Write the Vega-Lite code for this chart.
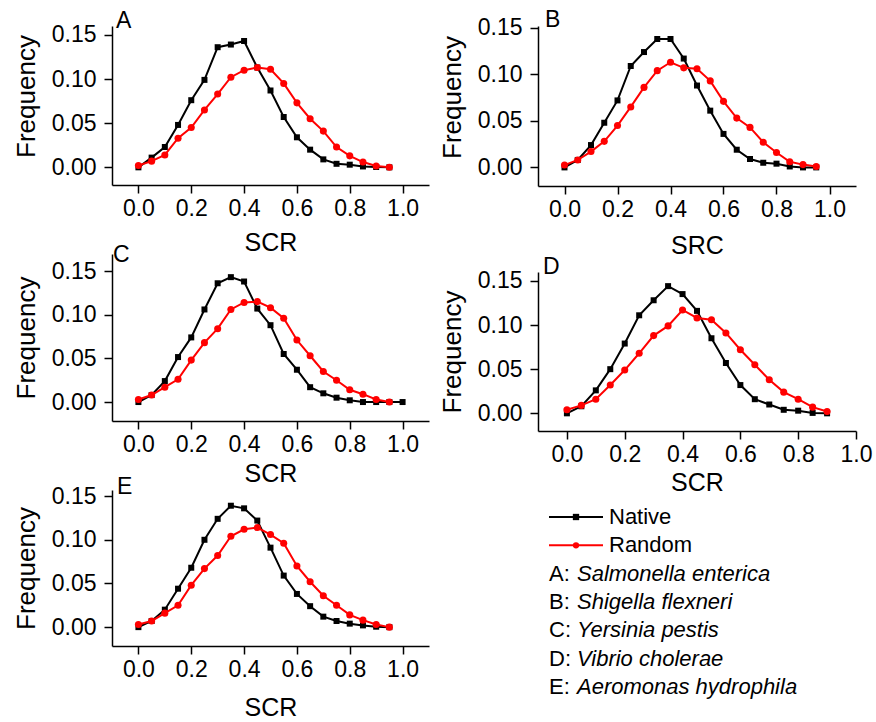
{
  "$schema": "https://vega.github.io/schema/vega-lite/v6.json",
  "background": "white",
  "padding": {"left": 13, "top": 9, "right": 5, "bottom": 5},
  "config": {
    "font": "Liberation Sans",
    "view": {"stroke": null},
    "axis": {"domainColor": "black", "domainWidth": 1.5, "tickColor": "black", "tickWidth": 1.5, "tickSize": 8, "labelFontSize": 23, "labelColor": "black", "titleFontSize": 25, "titleFontWeight": "normal", "titleColor": "black", "grid": false},
    "axisX": {"labelPadding": 4},
    "axisY": {"labelPadding": 8, "titlePadding": 12, "titleFontSize": 26}
  },
  "datasets": {
    "curves": [
      {"panel":"A","series":"Native","scr":0,"freq":0},{"panel":"A","series":"Native","scr":0.05,"freq":0.011},{"panel":"A","series":"Native","scr":0.1,"freq":0.023},{"panel":"A","series":"Native","scr":0.15,"freq":0.048},{"panel":"A","series":"Native","scr":0.2,"freq":0.076},{"panel":"A","series":"Native","scr":0.25,"freq":0.099},{"panel":"A","series":"Native","scr":0.3,"freq":0.136},{"panel":"A","series":"Native","scr":0.35,"freq":0.139},{"panel":"A","series":"Native","scr":0.4,"freq":0.143},{"panel":"A","series":"Native","scr":0.45,"freq":0.113},{"panel":"A","series":"Native","scr":0.5,"freq":0.087},{"panel":"A","series":"Native","scr":0.55,"freq":0.057},{"panel":"A","series":"Native","scr":0.6,"freq":0.034},{"panel":"A","series":"Native","scr":0.65,"freq":0.02},{"panel":"A","series":"Native","scr":0.7,"freq":0.009},{"panel":"A","series":"Native","scr":0.75,"freq":0.004},{"panel":"A","series":"Native","scr":0.8,"freq":0.003},{"panel":"A","series":"Native","scr":0.85,"freq":0.001},{"panel":"A","series":"Native","scr":0.9,"freq":0.0004},{"panel":"A","series":"Native","scr":0.95,"freq":0},
      {"panel":"A","series":"Random","scr":0,"freq":0.002},{"panel":"A","series":"Random","scr":0.05,"freq":0.007},{"panel":"A","series":"Random","scr":0.1,"freq":0.014},{"panel":"A","series":"Random","scr":0.15,"freq":0.033},{"panel":"A","series":"Random","scr":0.2,"freq":0.045},{"panel":"A","series":"Random","scr":0.25,"freq":0.065},{"panel":"A","series":"Random","scr":0.3,"freq":0.083},{"panel":"A","series":"Random","scr":0.35,"freq":0.102},{"panel":"A","series":"Random","scr":0.4,"freq":0.11},{"panel":"A","series":"Random","scr":0.45,"freq":0.113},{"panel":"A","series":"Random","scr":0.5,"freq":0.111},{"panel":"A","series":"Random","scr":0.55,"freq":0.095},{"panel":"A","series":"Random","scr":0.6,"freq":0.073},{"panel":"A","series":"Random","scr":0.65,"freq":0.055},{"panel":"A","series":"Random","scr":0.7,"freq":0.041},{"panel":"A","series":"Random","scr":0.75,"freq":0.023},{"panel":"A","series":"Random","scr":0.8,"freq":0.013},{"panel":"A","series":"Random","scr":0.85,"freq":0.006},{"panel":"A","series":"Random","scr":0.9,"freq":0.0015},{"panel":"A","series":"Random","scr":0.95,"freq":0},
      {"panel":"B","series":"Native","scr":0,"freq":0},{"panel":"B","series":"Native","scr":0.05,"freq":0.008},{"panel":"B","series":"Native","scr":0.1,"freq":0.024},{"panel":"B","series":"Native","scr":0.15,"freq":0.048},{"panel":"B","series":"Native","scr":0.2,"freq":0.072},{"panel":"B","series":"Native","scr":0.25,"freq":0.109},{"panel":"B","series":"Native","scr":0.3,"freq":0.124},{"panel":"B","series":"Native","scr":0.35,"freq":0.138},{"panel":"B","series":"Native","scr":0.4,"freq":0.138},{"panel":"B","series":"Native","scr":0.45,"freq":0.117},{"panel":"B","series":"Native","scr":0.5,"freq":0.088},{"panel":"B","series":"Native","scr":0.55,"freq":0.061},{"panel":"B","series":"Native","scr":0.6,"freq":0.036},{"panel":"B","series":"Native","scr":0.65,"freq":0.019},{"panel":"B","series":"Native","scr":0.7,"freq":0.009},{"panel":"B","series":"Native","scr":0.75,"freq":0.005},{"panel":"B","series":"Native","scr":0.8,"freq":0.004},{"panel":"B","series":"Native","scr":0.85,"freq":0.001},{"panel":"B","series":"Native","scr":0.9,"freq":0},{"panel":"B","series":"Native","scr":0.95,"freq":0},
      {"panel":"B","series":"Random","scr":0,"freq":0.0025},{"panel":"B","series":"Random","scr":0.05,"freq":0.008},{"panel":"B","series":"Random","scr":0.1,"freq":0.017},{"panel":"B","series":"Random","scr":0.15,"freq":0.028},{"panel":"B","series":"Random","scr":0.2,"freq":0.045},{"panel":"B","series":"Random","scr":0.25,"freq":0.065},{"panel":"B","series":"Random","scr":0.3,"freq":0.086},{"panel":"B","series":"Random","scr":0.35,"freq":0.104},{"panel":"B","series":"Random","scr":0.4,"freq":0.113},{"panel":"B","series":"Random","scr":0.45,"freq":0.107},{"panel":"B","series":"Random","scr":0.5,"freq":0.106},{"panel":"B","series":"Random","scr":0.55,"freq":0.093},{"panel":"B","series":"Random","scr":0.6,"freq":0.071},{"panel":"B","series":"Random","scr":0.65,"freq":0.053},{"panel":"B","series":"Random","scr":0.7,"freq":0.043},{"panel":"B","series":"Random","scr":0.75,"freq":0.027},{"panel":"B","series":"Random","scr":0.8,"freq":0.016},{"panel":"B","series":"Random","scr":0.85,"freq":0.006},{"panel":"B","series":"Random","scr":0.9,"freq":0.003},{"panel":"B","series":"Random","scr":0.95,"freq":0.001},
      {"panel":"C","series":"Native","scr":0,"freq":0},{"panel":"C","series":"Native","scr":0.05,"freq":0.008},{"panel":"C","series":"Native","scr":0.1,"freq":0.024},{"panel":"C","series":"Native","scr":0.15,"freq":0.0515},{"panel":"C","series":"Native","scr":0.2,"freq":0.074},{"panel":"C","series":"Native","scr":0.25,"freq":0.106},{"panel":"C","series":"Native","scr":0.3,"freq":0.136},{"panel":"C","series":"Native","scr":0.35,"freq":0.143},{"panel":"C","series":"Native","scr":0.4,"freq":0.138},{"panel":"C","series":"Native","scr":0.45,"freq":0.107},{"panel":"C","series":"Native","scr":0.5,"freq":0.088},{"panel":"C","series":"Native","scr":0.55,"freq":0.055},{"panel":"C","series":"Native","scr":0.6,"freq":0.037},{"panel":"C","series":"Native","scr":0.65,"freq":0.017},{"panel":"C","series":"Native","scr":0.7,"freq":0.01},{"panel":"C","series":"Native","scr":0.75,"freq":0.005},{"panel":"C","series":"Native","scr":0.8,"freq":0.002},{"panel":"C","series":"Native","scr":0.85,"freq":0},{"panel":"C","series":"Native","scr":0.9,"freq":0},{"panel":"C","series":"Native","scr":0.95,"freq":0},{"panel":"C","series":"Native","scr":1.0,"freq":0},
      {"panel":"C","series":"Random","scr":0,"freq":0.003},{"panel":"C","series":"Random","scr":0.05,"freq":0.008},{"panel":"C","series":"Random","scr":0.1,"freq":0.017},{"panel":"C","series":"Random","scr":0.15,"freq":0.026},{"panel":"C","series":"Random","scr":0.2,"freq":0.048},{"panel":"C","series":"Random","scr":0.25,"freq":0.068},{"panel":"C","series":"Random","scr":0.3,"freq":0.084},{"panel":"C","series":"Random","scr":0.35,"freq":0.106},{"panel":"C","series":"Random","scr":0.4,"freq":0.114},{"panel":"C","series":"Random","scr":0.45,"freq":0.115},{"panel":"C","series":"Random","scr":0.5,"freq":0.108},{"panel":"C","series":"Random","scr":0.55,"freq":0.096},{"panel":"C","series":"Random","scr":0.6,"freq":0.071},{"panel":"C","series":"Random","scr":0.65,"freq":0.053},{"panel":"C","series":"Random","scr":0.7,"freq":0.035},{"panel":"C","series":"Random","scr":0.75,"freq":0.025},{"panel":"C","series":"Random","scr":0.8,"freq":0.014},{"panel":"C","series":"Random","scr":0.85,"freq":0.009},{"panel":"C","series":"Random","scr":0.9,"freq":0.003},{"panel":"C","series":"Random","scr":0.95,"freq":0},
      {"panel":"D","series":"Native","scr":0,"freq":0},{"panel":"D","series":"Native","scr":0.05,"freq":0.008},{"panel":"D","series":"Native","scr":0.1,"freq":0.026},{"panel":"D","series":"Native","scr":0.15,"freq":0.05},{"panel":"D","series":"Native","scr":0.2,"freq":0.079},{"panel":"D","series":"Native","scr":0.25,"freq":0.111},{"panel":"D","series":"Native","scr":0.3,"freq":0.128},{"panel":"D","series":"Native","scr":0.35,"freq":0.144},{"panel":"D","series":"Native","scr":0.4,"freq":0.135},{"panel":"D","series":"Native","scr":0.45,"freq":0.116},{"panel":"D","series":"Native","scr":0.5,"freq":0.085},{"panel":"D","series":"Native","scr":0.55,"freq":0.057},{"panel":"D","series":"Native","scr":0.6,"freq":0.032},{"panel":"D","series":"Native","scr":0.65,"freq":0.016},{"panel":"D","series":"Native","scr":0.7,"freq":0.01},{"panel":"D","series":"Native","scr":0.75,"freq":0.004},{"panel":"D","series":"Native","scr":0.8,"freq":0.003},{"panel":"D","series":"Native","scr":0.85,"freq":0.0005},{"panel":"D","series":"Native","scr":0.9,"freq":0},
      {"panel":"D","series":"Random","scr":0,"freq":0.004},{"panel":"D","series":"Random","scr":0.05,"freq":0.009},{"panel":"D","series":"Random","scr":0.1,"freq":0.016},{"panel":"D","series":"Random","scr":0.15,"freq":0.032},{"panel":"D","series":"Random","scr":0.2,"freq":0.049},{"panel":"D","series":"Random","scr":0.25,"freq":0.068},{"panel":"D","series":"Random","scr":0.3,"freq":0.088},{"panel":"D","series":"Random","scr":0.35,"freq":0.099},{"panel":"D","series":"Random","scr":0.4,"freq":0.117},{"panel":"D","series":"Random","scr":0.45,"freq":0.108},{"panel":"D","series":"Random","scr":0.5,"freq":0.106},{"panel":"D","series":"Random","scr":0.55,"freq":0.091},{"panel":"D","series":"Random","scr":0.6,"freq":0.072},{"panel":"D","series":"Random","scr":0.65,"freq":0.055},{"panel":"D","series":"Random","scr":0.7,"freq":0.038},{"panel":"D","series":"Random","scr":0.75,"freq":0.024},{"panel":"D","series":"Random","scr":0.8,"freq":0.016},{"panel":"D","series":"Random","scr":0.85,"freq":0.007},{"panel":"D","series":"Random","scr":0.9,"freq":0.002},
      {"panel":"E","series":"Native","scr":0,"freq":0},{"panel":"E","series":"Native","scr":0.05,"freq":0.007},{"panel":"E","series":"Native","scr":0.1,"freq":0.02},{"panel":"E","series":"Native","scr":0.15,"freq":0.044},{"panel":"E","series":"Native","scr":0.2,"freq":0.068},{"panel":"E","series":"Native","scr":0.25,"freq":0.1},{"panel":"E","series":"Native","scr":0.3,"freq":0.124},{"panel":"E","series":"Native","scr":0.35,"freq":0.139},{"panel":"E","series":"Native","scr":0.4,"freq":0.136},{"panel":"E","series":"Native","scr":0.45,"freq":0.122},{"panel":"E","series":"Native","scr":0.5,"freq":0.091},{"panel":"E","series":"Native","scr":0.55,"freq":0.059},{"panel":"E","series":"Native","scr":0.6,"freq":0.038},{"panel":"E","series":"Native","scr":0.65,"freq":0.024},{"panel":"E","series":"Native","scr":0.7,"freq":0.012},{"panel":"E","series":"Native","scr":0.75,"freq":0.007},{"panel":"E","series":"Native","scr":0.8,"freq":0.004},{"panel":"E","series":"Native","scr":0.85,"freq":0.002},{"panel":"E","series":"Native","scr":0.9,"freq":0.0005},{"panel":"E","series":"Native","scr":0.95,"freq":0},
      {"panel":"E","series":"Random","scr":0,"freq":0.003},{"panel":"E","series":"Random","scr":0.05,"freq":0.007},{"panel":"E","series":"Random","scr":0.1,"freq":0.016},{"panel":"E","series":"Random","scr":0.15,"freq":0.025},{"panel":"E","series":"Random","scr":0.2,"freq":0.048},{"panel":"E","series":"Random","scr":0.25,"freq":0.067},{"panel":"E","series":"Random","scr":0.3,"freq":0.082},{"panel":"E","series":"Random","scr":0.35,"freq":0.104},{"panel":"E","series":"Random","scr":0.4,"freq":0.112},{"panel":"E","series":"Random","scr":0.45,"freq":0.114},{"panel":"E","series":"Random","scr":0.5,"freq":0.106},{"panel":"E","series":"Random","scr":0.55,"freq":0.096},{"panel":"E","series":"Random","scr":0.6,"freq":0.07},{"panel":"E","series":"Random","scr":0.65,"freq":0.052},{"panel":"E","series":"Random","scr":0.7,"freq":0.036},{"panel":"E","series":"Random","scr":0.75,"freq":0.025},{"panel":"E","series":"Random","scr":0.8,"freq":0.014},{"panel":"E","series":"Random","scr":0.85,"freq":0.008},{"panel":"E","series":"Random","scr":0.9,"freq":0.003},{"panel":"E","series":"Random","scr":0.95,"freq":0}
    ],
    "legendRows": [
      {"key":"Native","series":"Native","label":"Native"},
      {"key":"Random","series":"Random","label":"Random"},
      {"key":"A","prefix":"A:","species":"Salmonella enterica"},
      {"key":"B","prefix":"B:","species":"Shigella flexneri"},
      {"key":"C","prefix":"C:","species":"Yersinia pestis"},
      {"key":"D","prefix":"D:","species":"Vibrio cholerae"},
      {"key":"E","prefix":"E:","species":"Aeromonas hydrophila"}
    ]
  },
  "spacing": 10,
  "hconcat": [
    {
      "bounds": "flush",
      "spacing": 69,
      "vconcat": [
        {
          "width": 317, "height": 159,
          "data": {"name": "curves"},
          "transform": [{"filter": "datum.panel === 'A'"}],
          "encoding": {
            "x": {"field": "scr", "type": "quantitative", "scale": {"domain": [-0.1, 1.1], "nice": false, "zero": false}, "axis": {"values": [0, 0.2, 0.4, 0.6, 0.8, 1.0], "format": ".1f", "title": "SCR", "titlePadding": 10}},
            "y": {"field": "freq", "type": "quantitative", "scale": {"domain": [-0.02, 0.16], "nice": false, "zero": false}, "axis": {"values": [0, 0.05, 0.1, 0.15], "format": ".2f", "title": "Frequency", "titleY": 70}}
          },
          "layer": [
            {"transform": [{"filter": "datum.series === 'Native'"}], "mark": {"type": "line", "color": "black", "strokeWidth": 2}},
            {"transform": [{"filter": "datum.series === 'Native'"}], "mark": {"type": "point", "shape": "square", "filled": true, "color": "black", "opacity": 1, "size": 36}},
            {"transform": [{"filter": "datum.series === 'Random'"}], "mark": {"type": "line", "color": "#ff0000", "strokeWidth": 2}},
            {"transform": [{"filter": "datum.series === 'Random'"}], "mark": {"type": "point", "shape": "circle", "filled": true, "color": "#ff0000", "opacity": 1, "size": 50}},
            {"transform": [{"filter": "datum.series === 'Native' && datum.scr === 0"}], "mark": {"type": "text", "fontSize": 23, "align": "left", "baseline": "alphabetic", "dx": 4, "dy": 2, "color": "black"}, "encoding": {"x": {"datum": -0.1}, "y": {"datum": 0.16}, "text": {"field": "panel", "type": "nominal"}}}
          ]
        },
        {
          "width": 317, "height": 167,
          "data": {"name": "curves"},
          "transform": [{"filter": "datum.panel === 'C'"}],
          "encoding": {
            "x": {"field": "scr", "type": "quantitative", "scale": {"domain": [-0.1, 1.1], "nice": false, "zero": false}, "axis": {"values": [0, 0.2, 0.4, 0.6, 0.8, 1.0], "format": ".1f", "title": "SCR", "titlePadding": 5}},
            "y": {"field": "freq", "type": "quantitative", "scale": {"domain": [-0.0217, 0.1695], "nice": false, "zero": false}, "axis": {"values": [0, 0.05, 0.1, 0.15], "format": ".2f", "title": "Frequency"}}
          },
          "layer": [
            {"transform": [{"filter": "datum.series === 'Native'"}], "mark": {"type": "line", "color": "black", "strokeWidth": 2}},
            {"transform": [{"filter": "datum.series === 'Native'"}], "mark": {"type": "point", "shape": "square", "filled": true, "color": "black", "opacity": 1, "size": 36}},
            {"transform": [{"filter": "datum.series === 'Random'"}], "mark": {"type": "line", "color": "#ff0000", "strokeWidth": 2}},
            {"transform": [{"filter": "datum.series === 'Random'"}], "mark": {"type": "point", "shape": "circle", "filled": true, "color": "#ff0000", "opacity": 1, "size": 50}},
            {"transform": [{"filter": "datum.series === 'Native' && datum.scr === 0"}], "mark": {"type": "text", "fontSize": 23, "align": "left", "baseline": "alphabetic", "dx": 1, "dy": 8, "color": "black"}, "encoding": {"x": {"datum": -0.1}, "y": {"datum": 0.1695}, "text": {"field": "panel", "type": "nominal"}}}
          ]
        },
        {
          "width": 317, "height": 156,
          "data": {"name": "curves"},
          "transform": [{"filter": "datum.panel === 'E'"}],
          "encoding": {
            "x": {"field": "scr", "type": "quantitative", "scale": {"domain": [-0.1, 1.1], "nice": false, "zero": false}, "axis": {"values": [0, 0.2, 0.4, 0.6, 0.8, 1.0], "format": ".1f", "title": "SCR", "titlePadding": 14}},
            "y": {"field": "freq", "type": "quantitative", "scale": {"domain": [-0.0216, 0.157], "nice": false, "zero": false}, "axis": {"values": [0, 0.05, 0.1, 0.15], "format": ".2f", "title": "Frequency"}}
          },
          "layer": [
            {"transform": [{"filter": "datum.series === 'Native'"}], "mark": {"type": "line", "color": "black", "strokeWidth": 2}},
            {"transform": [{"filter": "datum.series === 'Native'"}], "mark": {"type": "point", "shape": "square", "filled": true, "color": "black", "opacity": 1, "size": 36}},
            {"transform": [{"filter": "datum.series === 'Random'"}], "mark": {"type": "line", "color": "#ff0000", "strokeWidth": 2}},
            {"transform": [{"filter": "datum.series === 'Random'"}], "mark": {"type": "point", "shape": "circle", "filled": true, "color": "#ff0000", "opacity": 1, "size": 50}},
            {"transform": [{"filter": "datum.series === 'Native' && datum.scr === 0"}], "mark": {"type": "text", "fontSize": 23, "align": "left", "baseline": "alphabetic", "dx": 5, "dy": 4, "color": "black"}, "encoding": {"x": {"datum": -0.1}, "y": {"datum": 0.157}, "text": {"field": "panel", "type": "nominal"}}}
          ]
        }
      ]
    },
    {
      "bounds": "flush",
      "spacing": 86,
      "vconcat": [
        {
          "width": 318, "height": 160,
          "data": {"name": "curves"},
          "transform": [{"filter": "datum.panel === 'B'"}],
          "encoding": {
            "x": {"field": "scr", "type": "quantitative", "scale": {"domain": [-0.1, 1.1], "nice": false, "zero": false}, "axis": {"values": [0, 0.2, 0.4, 0.6, 0.8, 1.0], "format": ".1f", "title": "SRC", "titlePadding": 12}},
            "y": {"field": "freq", "type": "quantitative", "scale": {"domain": [-0.02, 0.152], "nice": false, "zero": false}, "axis": {"values": [0, 0.05, 0.1, 0.15], "format": ".2f", "title": "Frequency", "titleY": 71}}
          },
          "layer": [
            {"transform": [{"filter": "datum.series === 'Native'"}], "mark": {"type": "line", "color": "black", "strokeWidth": 2}},
            {"transform": [{"filter": "datum.series === 'Native'"}], "mark": {"type": "point", "shape": "square", "filled": true, "color": "black", "opacity": 1, "size": 36}},
            {"transform": [{"filter": "datum.series === 'Random'"}], "mark": {"type": "line", "color": "#ff0000", "strokeWidth": 2}},
            {"transform": [{"filter": "datum.series === 'Random'"}], "mark": {"type": "point", "shape": "circle", "filled": true, "color": "#ff0000", "opacity": 1, "size": 50}},
            {"transform": [{"filter": "datum.series === 'Native' && datum.scr === 0"}], "mark": {"type": "text", "fontSize": 23, "align": "left", "baseline": "alphabetic", "dx": 7, "dy": 1, "color": "black"}, "encoding": {"x": {"datum": -0.1}, "y": {"datum": 0.152}, "text": {"field": "panel", "type": "nominal"}}}
          ]
        },
        {
          "width": 318, "height": 159,
          "data": {"name": "curves"},
          "transform": [{"filter": "datum.panel === 'D'"}],
          "encoding": {
            "x": {"field": "scr", "type": "quantitative", "scale": {"domain": [-0.1, 1.0], "nice": false, "zero": false}, "axis": {"values": [0, 0.2, 0.4, 0.6, 0.8, 1.0], "format": ".1f", "title": "SCR", "titlePadding": 4, "labelFlush": false}},
            "y": {"field": "freq", "type": "quantitative", "scale": {"domain": [-0.02, 0.16], "nice": false, "zero": false}, "axis": {"values": [0, 0.05, 0.1, 0.15], "format": ".2f", "title": "Frequency"}}
          },
          "layer": [
            {"transform": [{"filter": "datum.series === 'Native'"}], "mark": {"type": "line", "color": "black", "strokeWidth": 2}},
            {"transform": [{"filter": "datum.series === 'Native'"}], "mark": {"type": "point", "shape": "square", "filled": true, "color": "black", "opacity": 1, "size": 36}},
            {"transform": [{"filter": "datum.series === 'Random'"}], "mark": {"type": "line", "color": "#ff0000", "strokeWidth": 2}},
            {"transform": [{"filter": "datum.series === 'Random'"}], "mark": {"type": "point", "shape": "circle", "filled": true, "color": "#ff0000", "opacity": 1, "size": 50}},
            {"transform": [{"filter": "datum.series === 'Native' && datum.scr === 0"}], "mark": {"type": "text", "fontSize": 23, "align": "left", "baseline": "alphabetic", "dx": 5, "dy": 2, "color": "black"}, "encoding": {"x": {"datum": -0.1}, "y": {"datum": 0.16}, "text": {"field": "panel", "type": "nominal"}}}
          ]
        },
        {
          "width": 300, "height": 170,
          "data": {"name": "legendRows"},
          "encoding": {
            "y": {"field": "key", "type": "nominal", "scale": {"type": "point", "padding": 0, "domain": ["Native", "Random", "A", "B", "C", "D", "E"]}, "axis": null}
          },
          "layer": [
            {"transform": [{"filter": "datum.series"}], "mark": {"type": "rule", "strokeWidth": 2}, "encoding": {"x": {"datum": 11, "type": "quantitative", "scale": {"domain": [0, 300], "nice": false, "zero": false}, "axis": null}, "x2": {"datum": 65}, "color": {"field": "series", "type": "nominal", "scale": {"domain": ["Native", "Random"], "range": ["black", "#ff0000"]}, "legend": null}}},
            {"transform": [{"filter": "datum.series"}], "mark": {"type": "point", "filled": true, "opacity": 1, "size": 40}, "encoding": {"x": {"datum": 38, "type": "quantitative"}, "color": {"field": "series", "type": "nominal", "scale": {"domain": ["Native", "Random"], "range": ["black", "#ff0000"]}, "legend": null}, "shape": {"field": "series", "type": "nominal", "scale": {"domain": ["Native", "Random"], "range": ["square", "circle"]}, "legend": null}}},
            {"transform": [{"filter": "datum.series"}], "mark": {"type": "text", "fontSize": 22, "align": "left", "baseline": "middle", "color": "black"}, "encoding": {"x": {"datum": 71, "type": "quantitative"}, "text": {"field": "label"}}},
            {"transform": [{"filter": "datum.species"}], "mark": {"type": "text", "fontSize": 22, "align": "left", "baseline": "middle", "color": "black"}, "encoding": {"x": {"datum": 11, "type": "quantitative"}, "text": {"field": "prefix"}}},
            {"transform": [{"filter": "datum.species"}], "mark": {"type": "text", "fontSize": 22, "fontStyle": "italic", "align": "left", "baseline": "middle", "color": "black"}, "encoding": {"x": {"datum": 39, "type": "quantitative"}, "text": {"field": "species"}}}
          ]
        }
      ]
    }
  ]
}
